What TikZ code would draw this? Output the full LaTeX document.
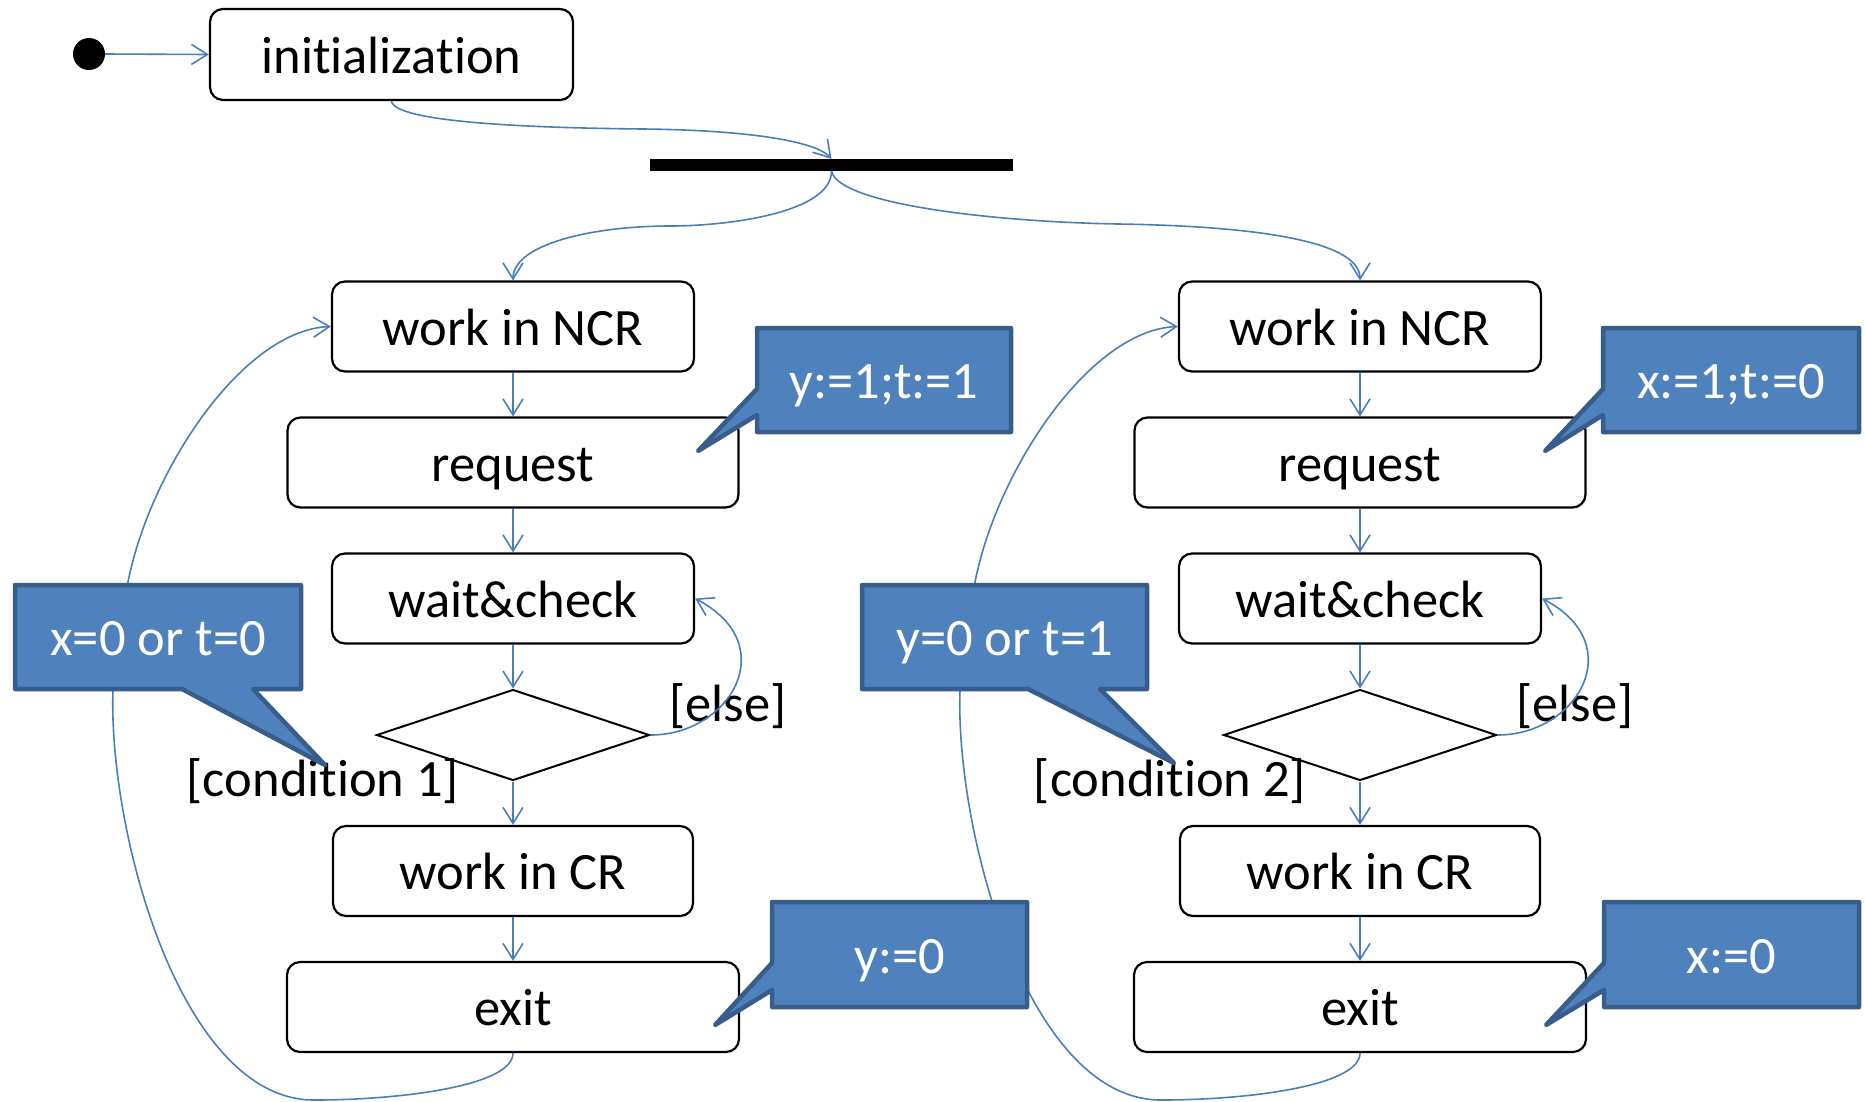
\documentclass[tikz,border=0pt]{standalone}
\usepackage{fontspec}
\setmainfont{Carlito}[Ligatures=NoCommon]
\usetikzlibrary{arrows.meta,shapes.geometric}
\definecolor{flowblue}{HTML}{4A7EBB}
\definecolor{notefill}{HTML}{4F81BD}
\definecolor{noteline}{HTML}{385D8A}
\begin{document}
\begin{tikzpicture}[x=1pt,y=-1pt,
  bigfont/.style={font=\fontsize{52.5}{63}\selectfont},
  flow/.style={draw=flowblue, line width=1.6pt, -{Straight Barb[length=16pt,width=20pt]}},
  state/.style={draw, rounded corners=13pt, line width=2.2pt, fill=white, inner sep=0pt,
    minimum height=90pt, text height=37.5pt, text depth=0pt, bigfont},
  choice/.style={diamond, draw, line width=2pt, fill=white, inner sep=0pt,
    minimum width=273pt, minimum height=91pt, shape aspect=3},
  guard/.style={inner sep=0pt, text height=37.5pt, text depth=0pt, bigfont},
  note/.style={fill=notefill, draw=noteline, line width=4.5pt, line join=round},
  notetext/.style={text=white, inner sep=0pt, text height=37.5pt, text depth=0pt, bigfont}]
\useasboundingbox (0,0) rectangle (1865,1101);

% start, initialization and fork bar
\node[circle, fill=black, minimum size=32pt, inner sep=0pt] (start) at (89,54) {};
\node[state, minimum width=363pt, minimum height=91pt] (init) at (391.5,54.5) {initialization};
\node[fill=black, minimum width=363pt, minimum height=12pt, inner sep=0pt] (fork) at (831.5,165) {};

\draw[flow] (start.east) -- (init.west);
\draw[flow] (init.south) .. controls +(3,22) and (540,128) .. (643,129)
  .. controls (740,130) and (815,140) .. (fork.north);

% the two processes
\foreach \n/\cx in {1/513,2/1360}{
  \node[state, minimum width=362pt] (ncr\n) at (\cx,326.5) {work in NCR};
  \node[state, minimum width=451pt] (req\n) at (\cx,462.5) {request};
  \node[state, minimum width=362pt] (wait\n) at (\cx,598.5) {wait\&check};
  \node[choice] (dec\n) at (\cx,735) {};
  \node[state, minimum width=360pt] (cr\n) at (\cx,871) {work in CR};
  \node[state, minimum width=452pt] (exit\n) at (\cx,1007) {exit};
  \node[guard] (else\n) at (\cx+215,703) {[else]};
  \node[guard] (cond\n) at (\cx-190,778) {[condition \n]};

  \draw[flow] (ncr\n) -- (req\n);
  \draw[flow] (req\n) -- (wait\n);
  \draw[flow] (wait\n) -- (dec\n);
  \draw[flow] (dec\n) -- (cr\n);
  \draw[flow] (cr\n) -- (exit\n);
  \draw[flow] (dec\n.east) .. controls +(80,0) and +(88,46) .. (wait\n.east);
  \draw[flow] (exit\n.south) .. controls +(0,33) and (\cx-113,1100) .. (\cx-199,1100)
    .. controls (\cx-333,1100) and (\cx-405,830) .. (\cx-400,690)
    -- (\cx-385,582) .. controls (\cx-363,470) and (\cx-270,330) .. (ncr\n.west);
}

% fork branches
\draw[flow] (fork.south) .. controls +(0,41) and (730,226) .. (670,226)
  .. controls (590,226) and (513,245) .. (ncr1.north);
\draw[flow] (fork.south) .. controls +(8,34) and (1000,222) .. (1118,224)
  .. controls (1250,226) and (1360,240) .. (ncr2.north);

% callouts with the variable updates and guards
\path[note] (757,328) -- (1011,328) -- (1011,432) -- (757,432) -- (757,415) -- (698,451) -- (757,389) -- cycle;
\node[notetext] (set1) at (884,380) {y:=1;t:=1};
\path[note] (1603,328) -- (1859,328) -- (1859,432) -- (1603,432) -- (1603,415) -- (1545,451) -- (1603,389) -- cycle;
\node[notetext] (set2) at (1731,380) {x:=1;t:=0};
\path[note] (15,585) -- (301,585) -- (301,689) -- (253,689) -- (325,765) -- (182,689) -- (15,689) -- cycle;
\node[notetext] (grd1) at (158,637) {x=0 or t=0};
\path[note] (862,585) -- (1147,585) -- (1147,689) -- (1100,689) -- (1174,763) -- (1028,689) -- (862,689) -- cycle;
\node[notetext] (grd2) at (1004.5,637) {y=0 or t=1};
\path[note] (772,902) -- (1027,902) -- (1027,1007) -- (772,1007) -- (772,990) -- (715,1025) -- (772,963) -- cycle;
\node[notetext] (rst1) at (899.5,954.5) {y:=0};
\path[note] (1604,902) -- (1859,902) -- (1859,1007) -- (1604,1007) -- (1604,990) -- (1546,1025) -- (1604,963) -- cycle;
\node[notetext] (rst2) at (1731.5,954.5) {x:=0};
\end{tikzpicture}
\end{document}
